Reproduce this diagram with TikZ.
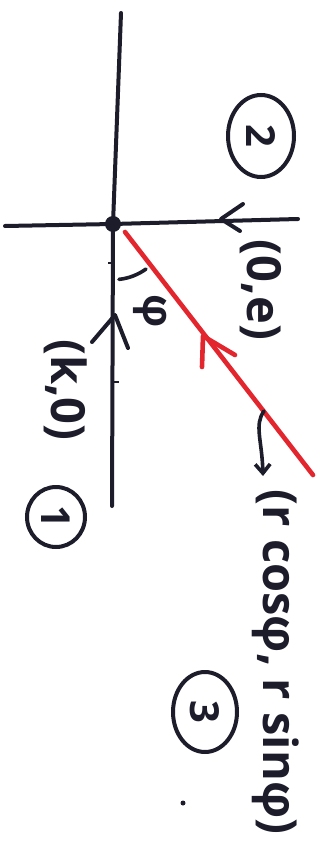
\documentclass[tikz,border=0pt]{standalone}
\usepackage{fontspec}
\setmainfont{Open Sans}
\usetikzlibrary{arrows.meta}
\definecolor{ink}{HTML}{1C1C2A}
\definecolor{redink}{HTML}{E3262E}
\begin{document}
\begin{tikzpicture}[x=1pt,y=-1pt,
  axis/.style={ink,line width=4pt,line cap=round},
  redline/.style={redink,line width=4.6pt,line cap=round},
  chev/.style={ink,line width=4pt,line cap=round,line join=round},
  redchev/.style={redink,line width=4.6pt,line cap=round,line join=round},
  lbl/.style={ink,rotate=-90,inner sep=0pt,font=\fontsize{47}{50}\selectfont\bfseries},
  num/.style={ink,rotate=-90,inner sep=0pt,font=\fontsize{40}{44}\selectfont\bfseries},
  ring/.style={ink,line width=4pt}]
\useasboundingbox[fill=white] (0,0) rectangle (321,845);
% axes
\coordinate (vtop) at (121,13);
\coordinate (vbot) at (112,506);
\coordinate (hleft) at (5,226);
\coordinate (hright) at (298,219);
\node[circle,fill=ink,inner sep=0pt,minimum size=16pt] (O) at (113,224) {};
\draw[axis] (vtop) -- (O.center) -- (vbot);
\draw[axis] (hleft) -- (O.center) -- (hright);
% small ticks on the vertical axis
\coordinate (t1a) at (108,263); \coordinate (t1b) at (114,263);
\coordinate (t2a) at (114,382); \coordinate (t2b) at (119,382);
\draw[ink,line width=2.5pt] (t1a) -- (t1b);
\draw[ink,line width=2.5pt] (t2a) -- (t2b);
% red ray
\coordinate (rend) at (313,475);
\coordinate (rstart) at (125,232);
\draw[redline] (rstart) -- (rend);
% chevrons on the lines
\coordinate (ha1) at (243,204); \coordinate (htip) at (221,219); \coordinate (ha2) at (240,231);
\draw[chev] (ha1) -- (htip) -- (ha2);
\coordinate (va1) at (92,342); \coordinate (vtip) at (115,315); \coordinate (va2) at (128,348);
\draw[chev] (va1) -- (vtip) -- (va2);
\coordinate (ra1) at (202,367); \coordinate (rtip) at (203,336); \coordinate (ra2) at (235,355);
\draw[redchev] (ra1) -- (rtip) -- (ra2);
% angle mark
\draw[ink,line width=3.6pt,line cap=round] (146,269) arc[start angle=54,end angle=84,radius=56];
\node[ink,rotate=-90,inner sep=0pt,font=\fontsize{42}{46}\selectfont\bfseries] (phi) at (150,311) {φ};
% labels
\node[lbl] (e) at (261,290) {(0,e)};
\node[lbl] (k) at (66,390) {(k,0)};
\node[lbl] (pt) at (276,662) {(r cosφ, r sinφ)};
% pointer arrow from the ray to the label
\coordinate (p0) at (264,411);
\coordinate (p1) at (263,476);
\draw[ink,line width=3.6pt,line cap=round,-{Straight Barb[length=9pt,width=15pt,line width=3.6pt]}]
  (p0) .. controls (254,425) and (262,440) .. (p1);
% circled numbers
\node[num] (n2) at (261,136) {2};
\draw[ring] (n2.center) ellipse [x radius=33, y radius=41];
\node[num] (n1) at (56,517) {1};
\draw[ring] (n1.center) ellipse [x radius=29, y radius=30];
\node[num] (n3) at (205,712) {3};
\draw[ring] (n3.center) ellipse [x radius=32, y radius=40];
% stray dot
\node[circle,fill=ink,inner sep=0pt,minimum size=5pt] (dot) at (183,803) {};
\end{tikzpicture}
\end{document}
